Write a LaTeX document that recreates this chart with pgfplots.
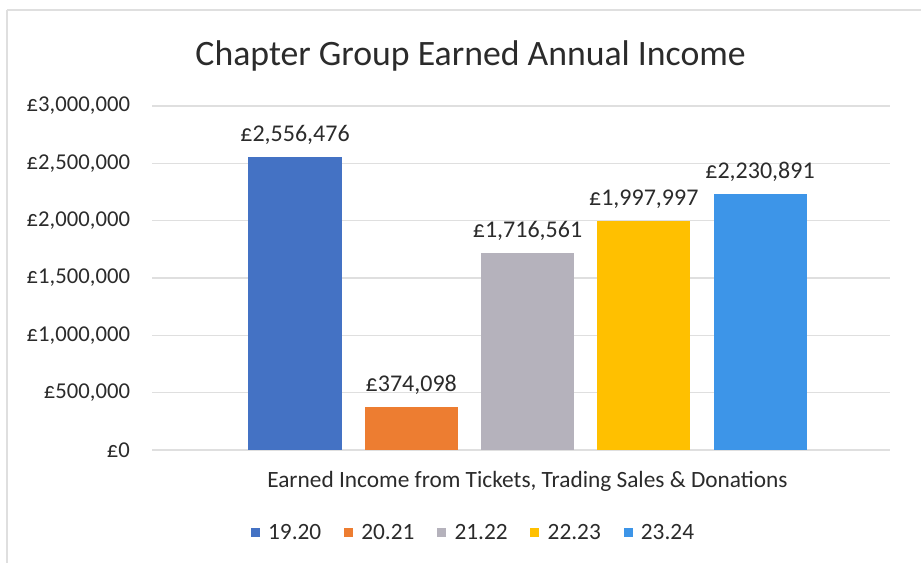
\documentclass[border=0pt]{standalone}
\usepackage{pgfplots}
\pgfplotsset{compat=1.18}
\usepackage{fontspec}
\setmainfont{Carlito}
\definecolor{c1}{HTML}{4472C4}
\definecolor{c2}{HTML}{ED7D31}
\definecolor{c3}{HTML}{B5B2BC}
\definecolor{c4}{HTML}{FFC000}
\definecolor{c5}{HTML}{3D95E8}
\definecolor{txt}{HTML}{2B2B2B}
\pgfplotsset{sqlegend/.style={legend image code/.code={\fill[##1] (0pt,-3.4pt) rectangle (6.8pt,3.4pt); \path (11pt,0pt);}}}
\begin{document}
\begin{tikzpicture}
\path[use as bounding box] (0,0) rectangle (690.75pt,422.25pt);
\draw[gray!25, line width=0.8pt] (5.25pt,414.75pt) -- (690.75pt,414.75pt);
\draw[gray!25, line width=0.8pt] (5.25pt,414.75pt) -- (5.25pt,0pt);
\node[text=txt, font=\fontsize{26.8}{31}\selectfont] at (353pt,380pt) {Chapter Group Earned Annual Income};
\node[text=txt, font=\fontsize{17.5}{21}\selectfont] at (395.6pt,61pt) {Earned Income from Tickets, Trading Sales \& Donations};
\begin{axis}[
  at={(114pt,84.75pt)}, anchor=south west,
  scale only axis, width=553.5pt, height=258pt,
  xmin=-0.23, xmax=6.118, ymin=0, ymax=3000000,
  axis line style={draw=none},
  major tick length=0pt,
  xtick=\empty,
  ytick={0,500000,1000000,1500000,2000000,2500000,3000000},
  yticklabels={£0,{£500,000},{£1,000,000},{£1,500,000},{£2,000,000},{£2,500,000},{£3,000,000}},
  yticklabel style={text=txt, font=\fontsize{17}{20}\selectfont, xshift=-13pt},
  ymajorgrids, grid style={gray!25, line width=0.8pt},
  scaled y ticks=false,
  point meta=explicit symbolic,
  nodes near coords,
  every node near coord/.append style={text=txt, font=\fontsize{18}{21}\selectfont, yshift=6pt},
  legend columns=5,
  legend style={draw=none, at={(0.436,-0.241)}, anchor=center, font=\fontsize{17.5}{21}\selectfont, text=txt,
    /tikz/every even column/.append style={column sep=15pt}},
]
\addplot[ybar, fill=c1, draw=none, bar width=0.8, bar shift=0pt, sqlegend] coordinates {(1,2556476) [£2,556,476]};
\addlegendentry{19.20}
\addplot[ybar, fill=c2, draw=none, bar width=0.8, bar shift=0pt, sqlegend] coordinates {(2,374098) [£374,098]};
\addlegendentry{20.21}
\addplot[ybar, fill=c3, draw=none, bar width=0.8, bar shift=0pt, sqlegend] coordinates {(3,1716561) [£1,716,561]};
\addlegendentry{21.22}
\addplot[ybar, fill=c4, draw=none, bar width=0.8, bar shift=0pt, sqlegend] coordinates {(4,1997997) [£1,997,997]};
\addlegendentry{22.23}
\addplot[ybar, fill=c5, draw=none, bar width=0.8, bar shift=0pt, sqlegend] coordinates {(5,2230891) [£2,230,891]};
\addlegendentry{23.24}
\end{axis}
\end{tikzpicture}
\end{document}
